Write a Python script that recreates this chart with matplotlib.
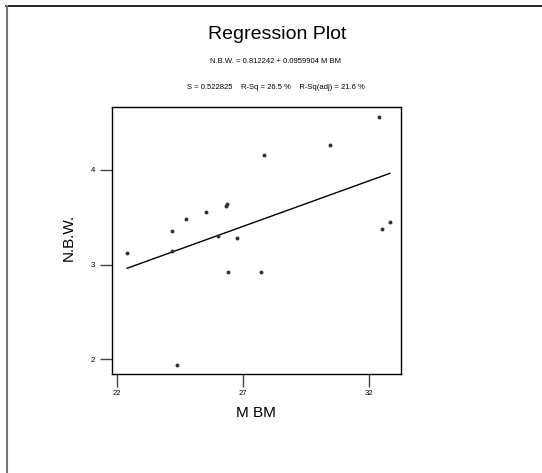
import numpy as np
import matplotlib
matplotlib.use("Agg")
import matplotlib.pyplot as plt
from matplotlib.lines import Line2D

plt.rcParams['font.family'] = ['Liberation Sans Narrow', 'Liberation Sans', 'DejaVu Sans']

# data
mbm = [22.39, 24.19, 24.19, 24.72, 25.54, 26.01, 26.34, 26.38, 26.42, 26.76,
       27.72, 27.83, 30.46, 32.41, 32.51, 32.84, 24.39]
nbw = [3.12, 3.36, 3.145, 3.48, 3.56, 3.30, 3.617, 3.64, 2.92, 3.28,
       2.92, 4.155, 4.26, 4.56, 3.38, 3.45, 1.94]
intercept = 0.812242
slope = 0.0959904
x_ticks = [22, 27, 32]
y_ticks = [2, 3, 4]

fig = plt.figure(figsize=(5.42, 4.73), dpi=100)
ax = fig.add_axes([0.2066, 0.2099, 0.5327, 0.5639])

ax.scatter(mbm, nbw, s=8, color='#333333', zorder=3, linewidths=0)
xl = np.array([min(mbm), max(mbm)])
ax.plot(xl, intercept + slope * xl, color='black', lw=1.0)

ax.set_xlim(21.79, 33.27)
ax.set_ylim(1.848, 4.665)
ax.set_xticks(x_ticks)
ax.set_yticks(y_ticks)
ax.tick_params(direction='out', length=9, width=1.0, labelsize=5.5, pad=3, color='#444444')
for s in ax.spines.values():
    s.set_linewidth(1.0)

ax.set_xlabel('M BM', fontsize=11, labelpad=6)
ax.set_ylabel('N.B.W.', fontsize=11)
ax.yaxis.set_label_coords(-0.125, 0.51)

fig.text(0.512, 0.928, 'Regression Plot', fontsize=14, ha='center', va='center')
fig.text(0.508, 0.869, 'N.B.W. = 0.812242 + 0.0959904 M BM', fontsize=5.5, ha='center', va='center')
fig.text(0.509, 0.815, 'S = 0.522825    R-Sq = 26.5 %    R-Sq(adj) = 21.6 %', fontsize=5.5,
         ha='center', va='center')

# page frame: top and left edges only
fig.add_artist(Line2D([0.011, 1.0], [1 - 6.5 / 473, 1 - 6.5 / 473], transform=fig.transFigure,
                      color='black', lw=1.2))
fig.add_artist(Line2D([6.8 / 542, 6.8 / 542], [0, 1 - 6.5 / 473], transform=fig.transFigure,
                      color='#777777', lw=1.5))

fig.savefig('out.png', dpi=100)
